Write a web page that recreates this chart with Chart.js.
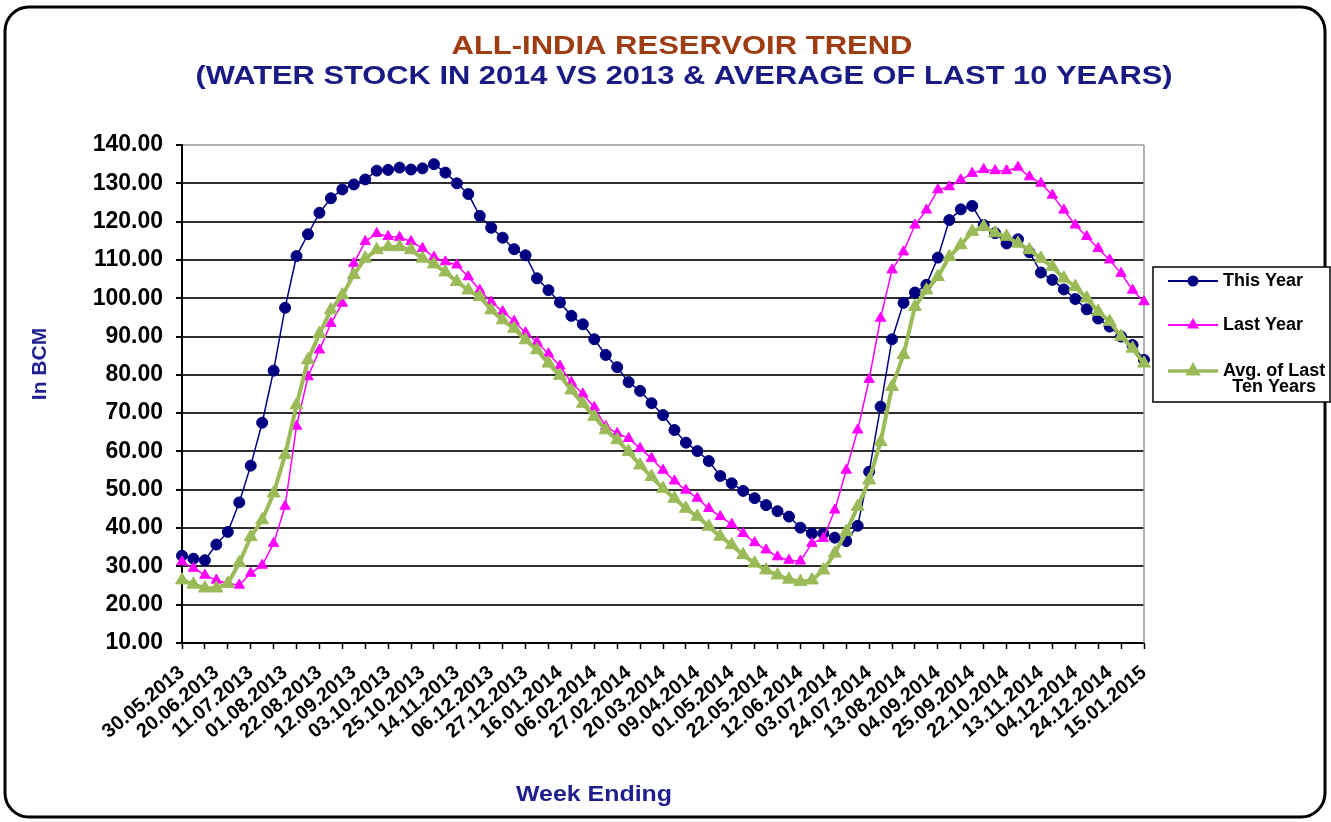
<!DOCTYPE html>
<html>
<head>
<meta charset="utf-8">
<script src="https://cdn.jsdelivr.net/npm/chart.js@4.4.1/dist/chart.umd.min.js"></script>
<style>
  html, body { margin: 0; padding: 0; background: #fff; }
  canvas { display: block; }
</style>
</head>
<body>
<canvas id="myChart" width="1331" height="822"></canvas>
<script>
// date labels shown on the axis (every third week)
const shownDates = [
  '30.05.2013', '20.06.2013', '11.07.2013', '01.08.2013', '22.08.2013', '12.09.2013',
  '03.10.2013', '25.10.2013', '14.11.2013', '06.12.2013', '27.12.2013', '16.01.2014',
  '06.02.2014', '27.02.2014', '20.03.2014', '09.04.2014', '01.05.2014', '22.05.2014',
  '12.06.2014', '03.07.2014', '24.07.2014', '13.08.2014', '04.09.2014', '25.09.2014',
  '22.10.2014', '13.11.2014', '04.12.2014', '24.12.2014', '15.01.2015'
];

// water stock in BCM, one value per week
const thisYear = [
  32.8, 32.0, 31.6, 35.7, 39.0, 46.7, 56.3, 67.5, 81.1, 97.5,
  111.0, 116.7, 122.3, 126.1, 128.4, 129.7, 131.0, 133.3, 133.5, 134.1,
  133.6, 133.9, 135.0, 132.8, 130.0, 127.2, 121.5, 118.4, 115.8, 112.8,
  111.2, 105.2, 102.1, 98.9, 95.4, 93.2, 89.3, 85.2, 82.0, 78.1,
  75.8, 72.6, 69.5, 65.6, 62.3, 60.1, 57.5, 53.6, 51.7, 49.7,
  47.8, 46.0, 44.4, 43.0, 40.1, 38.6, 38.6, 37.5, 36.6, 40.6,
  54.7, 71.7, 89.3, 98.8, 101.5, 103.5, 110.6, 120.4, 123.2, 124.1,
  119.1, 117.0, 114.3, 115.4, 112.0, 106.7, 104.8, 102.3, 99.8, 97.1,
  94.7, 92.6, 90.0, 87.8, 83.9
];
const lastYear = [
  31.2, 29.5, 27.7, 26.4, 25.6, 25.1, 28.2, 30.3, 36.0, 45.7,
  66.6, 79.5, 86.5, 93.4, 98.7, 109.1, 114.8, 116.9, 116.1, 115.9,
  114.8, 113.0, 110.7, 109.5, 108.7, 105.6, 102.1, 99.0, 96.5, 94.0,
  91.0, 88.5, 85.5, 82.3, 78.0, 75.0, 71.5, 66.5, 64.7, 63.4,
  60.8, 58.2, 55.1, 52.3, 49.9, 47.8, 45.1, 43.0, 41.0, 38.6,
  36.2, 34.3, 32.5, 31.6, 31.4, 36.0, 37.3, 44.7, 55.1, 65.6,
  78.8, 94.8, 107.4, 112.1, 119.1, 123.0, 128.3, 129.1, 130.9, 132.6,
  133.6, 133.3, 133.3, 134.2, 131.7, 130.0, 126.9, 123.0, 119.1, 116.1,
  113.0, 110.0, 106.5, 102.1, 99.1
];
const avgTenYears = [
  26.4, 25.3, 24.3, 24.3, 25.5, 30.9, 37.7, 42.1, 49.1, 59.1,
  72.1, 83.9, 90.7, 96.9, 100.8, 106.1, 110.4, 112.6, 113.4, 113.4,
  112.6, 110.4, 108.9, 106.8, 104.3, 102.1, 100.4, 96.9, 94.3, 92.1,
  89.1, 86.5, 83.0, 79.8, 76.0, 72.5, 69.1, 65.6, 63.0, 59.9,
  56.4, 53.4, 50.3, 47.7, 45.1, 43.0, 40.4, 37.8, 35.6, 33.0,
  30.8, 29.0, 27.7, 26.6, 26.0, 26.4, 29.0, 33.4, 39.0, 45.6,
  52.5, 62.5, 76.9, 85.2, 97.8, 102.1, 105.6, 110.8, 113.9, 117.4,
  118.7, 117.0, 116.1, 114.3, 112.6, 110.4, 108.2, 105.2, 103.0, 100.0,
  96.5, 93.9, 90.0, 86.9, 83.0
];

const seriesNames = ['This Year', 'Last Year', 'Avg. of Last Ten Years'];

// one category per week, only every third one carries a date
const weeks = [];
shownDates.forEach((d, i) => {
  weeks.push(d);
  if (i < shownDates.length - 1) weeks.push('', '');
});

const FONT = "'Liberation Sans', Arial, sans-serif";

// text stretched sideways to a given width (the source picture is a bit wide)
const wideText = (c, txt, cx, cy, width) => {
  const sx = width / c.measureText(txt).width;
  c.save();
  c.translate(cx, cy);
  c.scale(sx, 1);
  c.fillText(txt, 0, 0);
  c.restore();
};

const decor = {
  id: 'decor',
  beforeDraw(chart) {
    const c = chart.ctx;
    c.save();
    c.fillStyle = '#fff';
    c.fillRect(0, 0, chart.width, chart.height);
    c.strokeStyle = '#000';
    c.lineWidth = 3;
    c.beginPath();
    c.roundRect(5, 7, 1320, 810, 24);
    c.stroke();
    c.restore();
  },
  beforeDatasetsDraw(chart) {
    const c = chart.ctx, a = chart.chartArea;
    c.save();
    c.strokeStyle = '#9a9a9a';
    c.lineWidth = 1.5;
    c.beginPath();
    c.moveTo(a.right, a.top);
    c.lineTo(a.right, a.bottom);
    c.stroke();
    c.restore();
  },
  afterDraw(chart) {
    const c = chart.ctx;
    c.save();
    c.textAlign = 'center';
    c.textBaseline = 'middle';
    c.font = 'bold 26px ' + FONT;
    c.fillStyle = '#9e3d12';
    wideText(c, 'ALL-INDIA RESERVOIR TREND', 682, 47, 461);
    c.fillStyle = '#1a1a85';
    wideText(c, '(WATER STOCK IN 2014 VS 2013 & AVERAGE OF LAST 10 YEARS)', 684, 77, 977);

    c.fillStyle = '#1f1f90';
    c.font = 'bold 22px ' + FONT;
    wideText(c, 'Week Ending', 594, 795, 156);
    c.save();
    c.translate(40, 364);
    c.rotate(-Math.PI / 2);
    c.font = 'bold 21px ' + FONT;
    c.fillText('In BCM', 0, 0);
    c.restore();

    // legend
    c.fillStyle = '#fff';
    c.fillRect(1153, 267, 177, 135);
    c.strokeStyle = '#000';
    c.lineWidth = 1.5;
    c.strokeRect(1153, 267, 177, 135);
    const rows = [281, 325, 371];
    const lw = [2, 2, 3.5];
    const mr = [4.5, 5, 5.5];
    chart.data.datasets.forEach((ds, i) => {
      const y = rows[i];
      c.strokeStyle = ds.borderColor;
      c.lineWidth = lw[i];
      c.beginPath();
      c.moveTo(1168, y);
      c.lineTo(1218, y);
      c.stroke();
      c.fillStyle = ds.pointBackgroundColor;
      c.strokeStyle = ds.pointBorderColor;
      Chart.helpers.drawPoint(c, { pointStyle: ds.pointStyle, radius: mr[i], rotation: 0, borderWidth: 1 }, 1193, y);
    });
    c.fillStyle = '#000';
    c.font = 'bold 18px ' + FONT;
    c.textAlign = 'left';
    c.fillText('This Year', 1223, rows[0]);
    c.fillText('Last Year', 1223, rows[1]);
    const w1 = c.measureText('Avg. of Last').width;
    c.textAlign = 'center';
    c.fillText('Avg. of Last', 1223 + w1 / 2, rows[2]);
    c.fillText('Ten Years', 1223 + w1 / 2, rows[2] + 16);
    c.restore();
  }
};

new Chart(document.getElementById('myChart'), {
  type: 'line',
  data: {
    labels: weeks,
    datasets: [
      {
        label: seriesNames[0],
        data: thisYear,
        borderColor: '#000080',
        borderWidth: 1.5,
        pointStyle: 'circle',
        pointRadius: 5.5,
        pointBackgroundColor: '#000080',
        pointBorderColor: '#000080',
        pointBorderWidth: 1,
        order: 3,
        clip: false
      },
      {
        label: seriesNames[1],
        data: lastYear,
        borderColor: '#ff00ff',
        borderWidth: 1.5,
        pointStyle: 'triangle',
        pointRadius: 6,
        pointBackgroundColor: '#ff00ff',
        pointBorderColor: '#ff00ff',
        pointBorderWidth: 1,
        order: 2,
        clip: false
      },
      {
        label: seriesNames[2],
        data: avgTenYears,
        borderColor: '#9bbb59',
        borderWidth: 4,
        pointStyle: 'triangle',
        pointRadius: 7.5,
        pointBackgroundColor: '#9bbb59',
        pointBorderColor: '#9bbb59',
        pointBorderWidth: 1,
        order: 1,
        clip: false
      }
    ]
  },
  options: {
    responsive: false,
    animation: false,
    layout: {
      padding: { top: 145, right: 187, bottom: 0, left: 0 }
    },
    elements: {
      line: { tension: 0 }
    },
    plugins: {
      legend: { display: false },
      title: { display: false },
      tooltip: { enabled: false }
    },
    scales: {
      x: {
        offset: false,
        afterFit: scale => { scale.height = 179; },
        border: { color: '#000', width: 2 },
        grid: {
          drawOnChartArea: false,
          tickLength: 6,
          tickWidth: 1.5,
          tickColor: ctx => (ctx.index % 2 === 0 ? '#000' : 'rgba(0,0,0,0)')
        },
        ticks: {
          autoSkip: false,
          maxRotation: 40,
          minRotation: 40,
          padding: 12,
          color: '#000',
          font: { family: FONT, size: 20, weight: 'bold' },
          callback: function (val, idx) {
            return idx % 3 === 0 ? this.getLabelForValue(val) : '';
          }
        }
      },
      y: {
        min: 10,
        max: 140,
        afterFit: scale => { scale.width = 182; },
        border: { color: '#000', width: 2 },
        grid: {
          color: ctx => (ctx.tick && ctx.tick.value === 140 ? '#b5b5b5' : '#2e2e2e'),
          lineWidth: 2,
          tickLength: 6,
          tickColor: '#000'
        },
        ticks: {
          stepSize: 10,
          padding: 13,
          color: '#000',
          font: { family: FONT, size: 23, weight: 'bold' },
          callback: v => v.toFixed(2)
        }
      }
    }
  },
  plugins: [decor]
});
</script>
</body>
</html>
